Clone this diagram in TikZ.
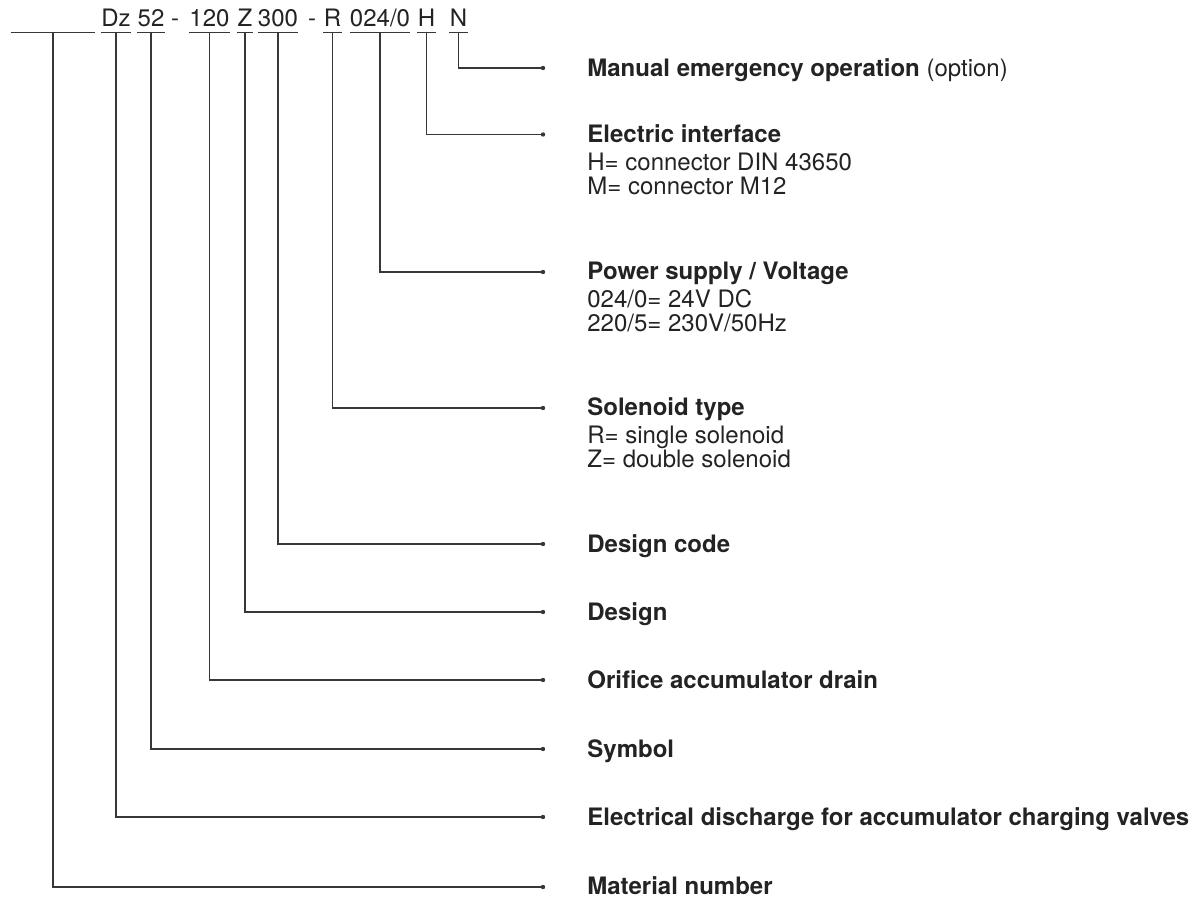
\documentclass[tikz,border=0pt]{standalone}
\usepackage{fontspec}
\setmainfont{TeX Gyre Heros}
\usepackage{tikz}
\usetikzlibrary{positioning}
\definecolor{inkgray}{RGB}{35,35,35}
\definecolor{linegray}{RGB}{55,55,55}

\begin{document}
\begin{tikzpicture}[x=0.5pt, y=-0.5pt, font=\fontsize{12pt}{12pt}\selectfont, text=inkgray]
    \tikzstyle{codepart} = [inner sep=0pt, anchor=base, text depth=2.4pt]
    \tikzstyle{under} = [draw=linegray, line width=0.6pt]
    \tikzstyle{leader} = [draw=linegray, line width=0.6pt]
    \tikzstyle{desc} = [inner sep=0pt, anchor=north west, align=left]
    \useasboundingbox (0,0) rectangle (1195,897);

    % type code
    \node [codepart, minimum width=42pt] (matno) at (53,27) {};
    \node [codepart] (dz) at (116,27) {Dz};
    \node [codepart] (sym) at (151,27) {52};
    \node [codepart] (dashA) at (175,27) {-};
    \node [codepart] (orif) at (209.5,27) {120};
    \node [codepart] (dsg) at (245,27) {Z};
    \node [codepart] (dcode) at (278,27) {300};
    \node [codepart] (dashB) at (312,27) {-};
    \node [codepart] (sol) at (332.5,27) {R};
    \node [codepart] (volt) at (380,27) {024/0};
    \node [codepart] (iface) at (426.5,27) {H};
    \node [codepart] (manual) at (458.5,27) {N};

    \draw [under] (matno.south west) -- (matno.south east);
    \draw [under] (dz.south west) -- (dz.south east);
    \draw [under] (sym.south west) -- (sym.south east);
    \draw [under] (orif.south west) -- (orif.south east);
    \draw [under] (dsg.south west) -- (dsg.south east);
    \draw [under] (dcode.south west) -- (dcode.south east);
    \draw [under] (sol.south west) -- (sol.south east);
    \draw [under] (volt.south west) -- (volt.south east);
    \draw [under] (iface.south west) -- (iface.south east);
    \draw [under] (manual.south west) -- (manual.south east);

    % leader ends
    \coordinate (manualEnd) at (543,68);
    \coordinate (ifaceEnd) at (543,134.5);
    \coordinate (voltEnd) at (543,272);
    \coordinate (solEnd) at (543,408);
    \coordinate (dcodeEnd) at (543,544);
    \coordinate (dsgEnd) at (543,612);
    \coordinate (orifEnd) at (543,680);
    \coordinate (symEnd) at (543,749);
    \coordinate (dzEnd) at (543,817);
    \coordinate (matnoEnd) at (543,887);

    % descriptions
    \node [desc] (manualTxt) at (587,58) {\textbf{Manual emergency operation} (option)};
    \node [desc] (ifaceTxt) at (587,124.5) {\textbf{Electric interface}\\[2pt]H= connector DIN 43650\\M= connector M12};
    \node [desc] (voltTxt) at (587,262) {\textbf{Power supply / Voltage}\\[2pt]024/0= 24V DC\\220/5= 230V/50Hz};
    \node [desc] (solTxt) at (587,397) {\textbf{Solenoid type}\\[2pt]R= single solenoid\\Z= double solenoid};
    \node [desc] (dcodeTxt) at (587,534) {\textbf{Design code}};
    \node [desc] (dsgTxt) at (587,602) {\textbf{Design}};
    \node [desc] (orifTxt) at (587,670) {\textbf{Orifice accumulator drain}};
    \node [desc] (symTxt) at (587,739) {\textbf{Symbol}};
    \node [desc] (dzTxt) at (587,807) {\textbf{Electrical discharge for accumulator charging valves}};
    \node [desc] (matnoTxt) at (587,876.5) {\textbf{Material number}};

    \draw [leader] (manual.south) |- (manualEnd);
    \draw [leader] (iface.south) |- (ifaceEnd);
    \draw [leader] (volt.south) |- (voltEnd);
    \draw [leader] (sol.south) |- (solEnd);
    \draw [leader] (dcode.south) |- (dcodeEnd);
    \draw [leader] (dsg.south) |- (dsgEnd);
    \draw [leader] (orif.south) |- (orifEnd);
    \draw [leader] (sym.south) |- (symEnd);
    \draw [leader] (dz.south) |- (dzEnd);
    \draw [leader] (matno.south) |- (matnoEnd);
    \foreach \e in {manualEnd,ifaceEnd,voltEnd,solEnd,dcodeEnd,dsgEnd,orifEnd,symEnd,dzEnd,matnoEnd}
        \fill [linegray] (\e) circle (1.1pt);
\end{tikzpicture}
\end{document}
